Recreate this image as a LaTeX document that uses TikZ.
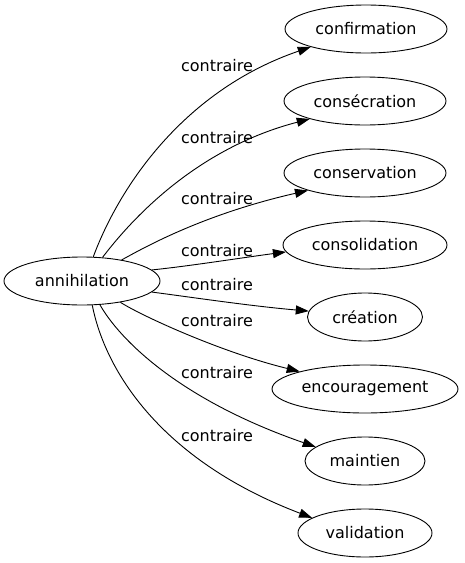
\documentclass[tikz,border=0pt]{standalone}
\usepackage{fontspec}
\setmainfont{DejaVu Sans}
\usetikzlibrary{arrows.meta,shapes.geometric}
\begin{document}
\begin{tikzpicture}[x=1pt,y=-1pt,
  word/.style={draw,ellipse,line width=0.9pt,inner sep=0pt,minimum height=48pt,font=\fontsize{16}{18}\selectfont},
  rel/.style={font=\fontsize{16}{18}\selectfont,inner sep=0pt},
  link/.style={line width=0.9pt,-{Triangle[length=13pt,width=9pt]}}]
\useasboundingbox (0,0) rectangle (464,563);
\node[word,minimum width=156pt] (src) at (82,281) {annihilation};
\node[word,minimum width=162pt] (t1) at (366,29) {confirmation};
\node[word,minimum width=162pt] (t2) at (365,101) {consécration};
\node[word,minimum width=162pt] (t3) at (365,173) {conservation};
\node[word,minimum width=164pt] (t4) at (365,245) {consolidation};
\node[word,minimum width=115pt] (t5) at (365,317) {création};
\node[word,minimum width=186pt] (t6) at (365,389) {encouragement};
\node[word,minimum width=120pt] (t7) at (365,461) {maintien};
\node[word,minimum width=134pt] (t8) at (365,533) {validation};
\draw[link] (src.65) .. controls (120,185) and (185,90) .. (t1.198);
\draw[link] (src.49) .. controls (125,228) and (190,150) .. (t2.198);
\draw[link] (src.28) .. controls (140,250) and (200,215) .. (t3.197);
\draw[link] (src.9) .. controls (190,266) and (240,258) .. (t4.185);
\draw[link] (src.351) .. controls (190,297) and (250,306) .. (t5.174);
\draw[link] (src.331) .. controls (140,315) and (220,352) .. (t6.165);
\draw[link] (src.307) .. controls (120,340) and (180,400) .. (t7.164);
\draw[link] (src.293) .. controls (105,370) and (160,460) .. (t8.164);
\node[rel] (l1) at (217,66) {contraire};
\node[rel] (l2) at (217,138) {contraire};
\node[rel] (l3) at (217,199) {contraire};
\node[rel] (l4) at (217,251) {contraire};
\node[rel] (l5) at (217,285) {contraire};
\node[rel] (l6) at (217,321) {contraire};
\node[rel] (l7) at (217,373) {contraire};
\node[rel] (l8) at (217,436) {contraire};
\end{tikzpicture}
\end{document}
